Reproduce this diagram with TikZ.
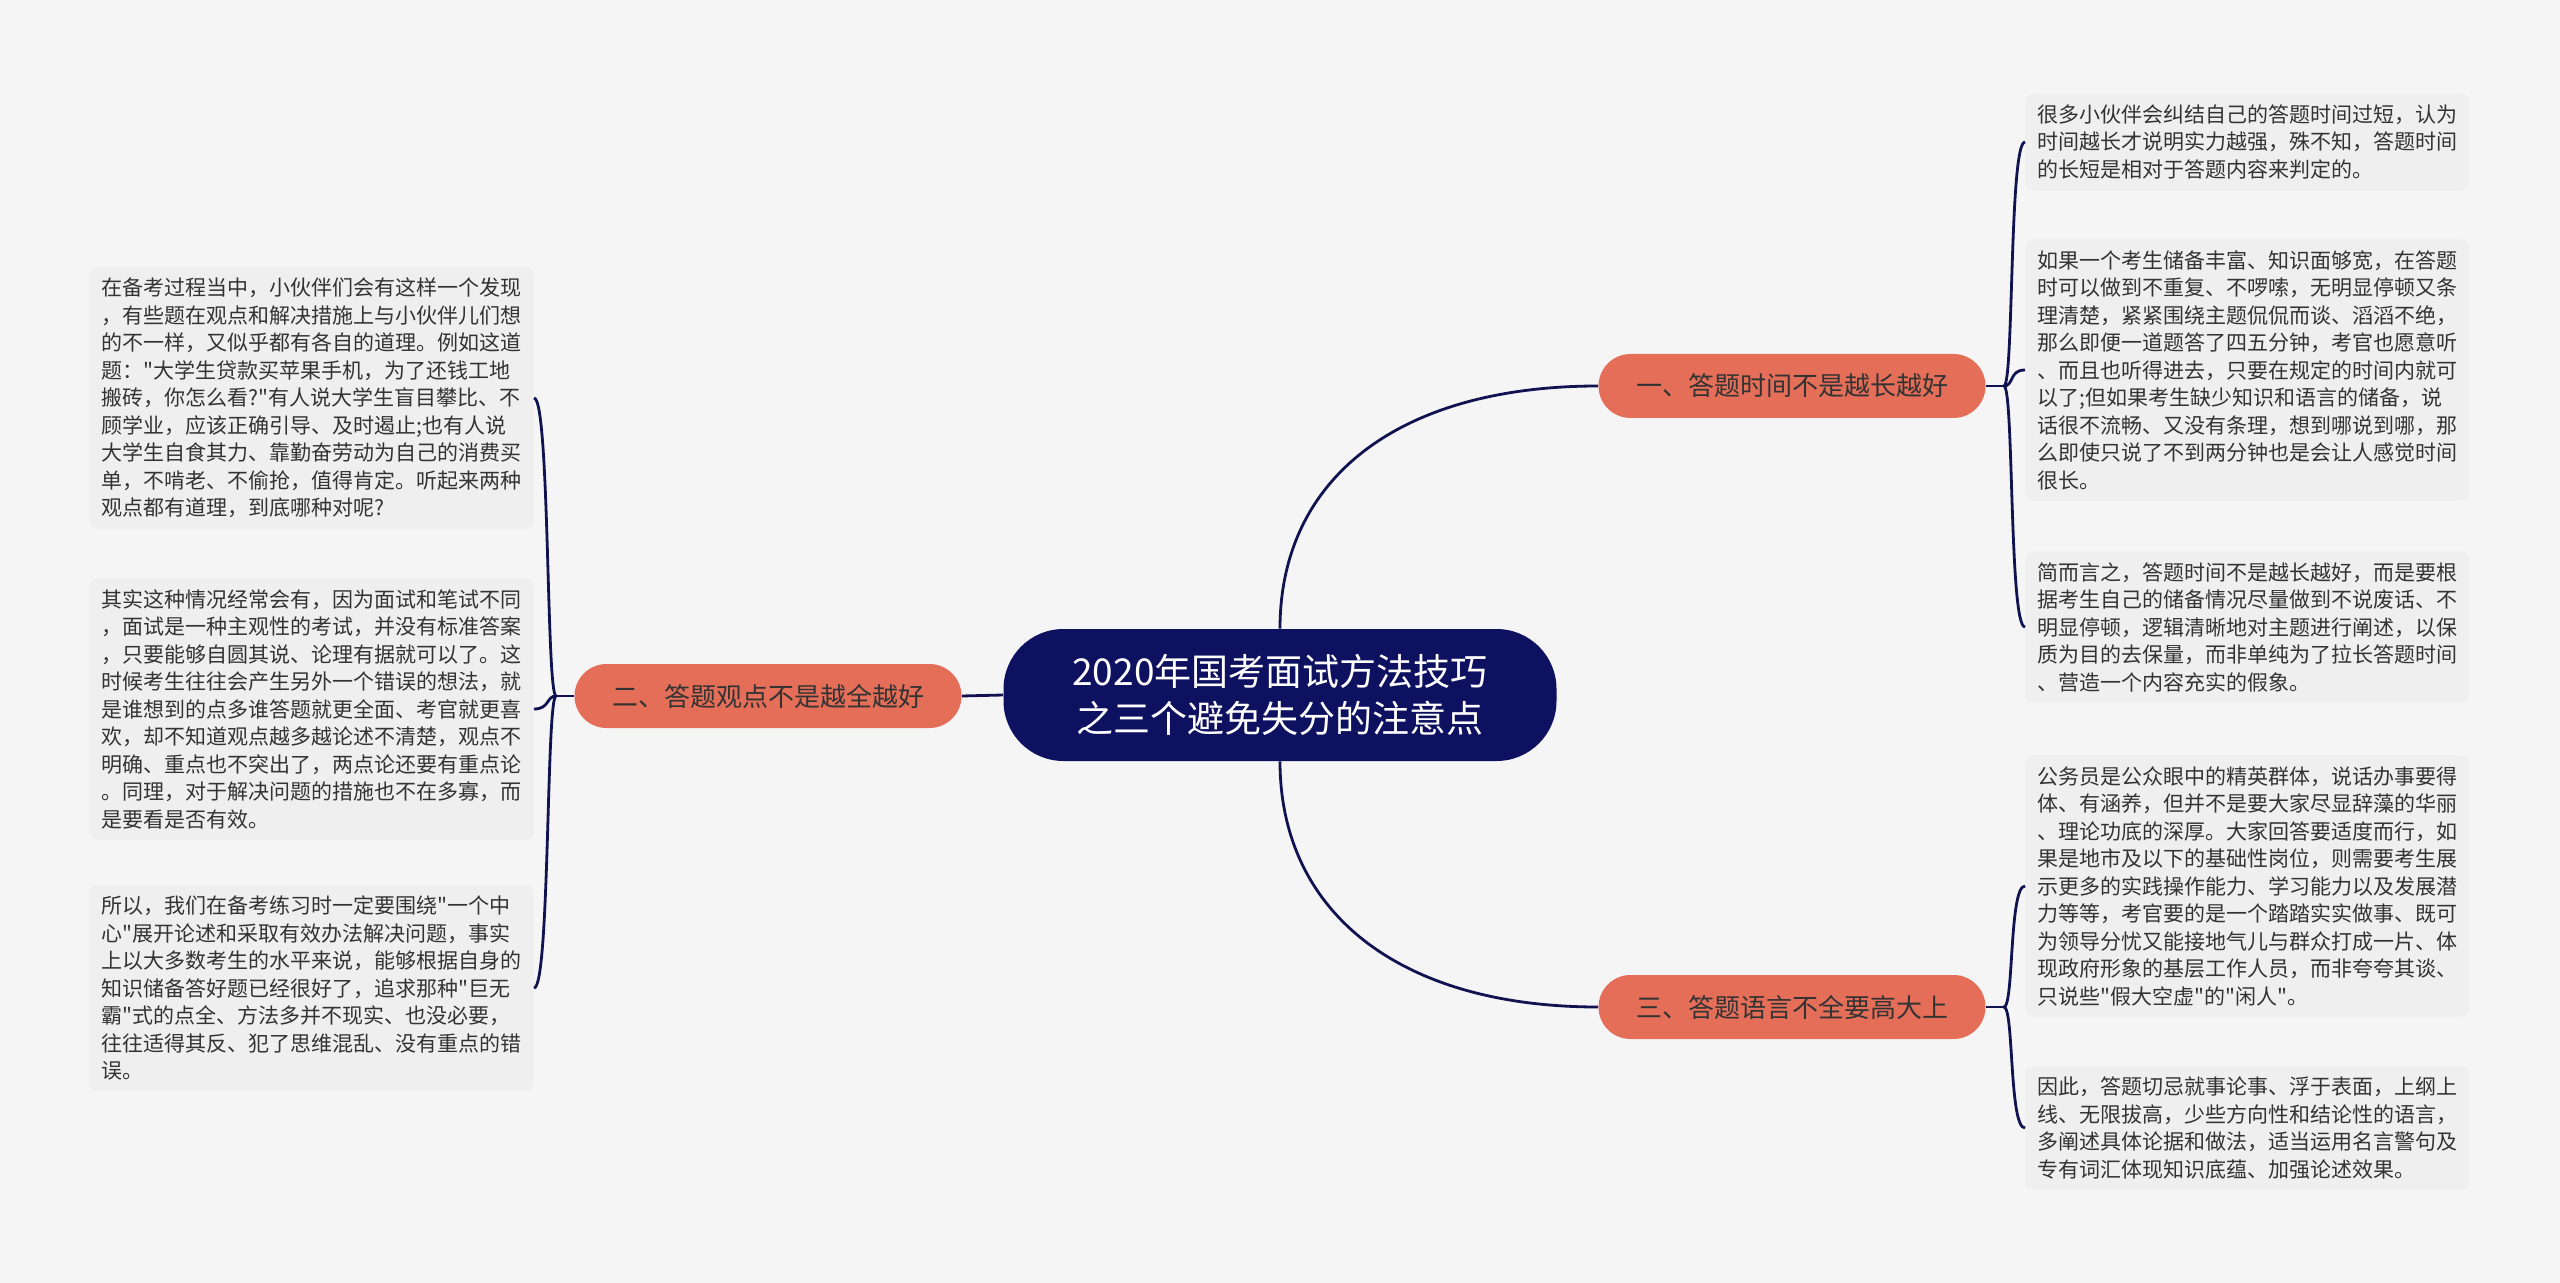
\documentclass[tikz,border=0pt]{standalone}
\usepackage{fontspec}
\setmainfont{Noto Sans CJK SC}[Ligatures=TeXOff]
\definecolor{bgcolor}{HTML}{F5F5F6}
\definecolor{leafcolor}{HTML}{EFEFF0}
\definecolor{branchcolor}{HTML}{E46E58}
\definecolor{titlecolor}{HTML}{0D1160}
\definecolor{linkcolor}{HTML}{101350}
\definecolor{textcolor}{HTML}{333333}
\begin{document}
\begin{tikzpicture}[x=0.5pt,y=-0.5pt,
    titlebox/.style={fill=titlecolor,text=white,rounded corners=30pt,minimum width=276.5pt,minimum height=66pt,align=center,font=\fontsize{18.5pt}{23.5pt}\selectfont},
    branchbox/.style={fill=branchcolor,text=textcolor,rounded corners=16pt,minimum width=193.5pt,minimum height=32pt,font=\fontsize{13pt}{16pt}\selectfont},
    leafbox/.style={fill=leafcolor,text=textcolor,rounded corners=4pt,text width=210pt,inner xsep=6pt,inner ysep=5.5pt,align=left,font=\fontsize{10.5pt}{13.75pt}\selectfont},
    link/.style={draw=linkcolor,line width=1.4pt}]
    \useasboundingbox (0,0) rectangle (2560,1283);
    \fill[bgcolor] (0,0) rectangle (2560,1283);
    % --- nodo centrale e rami ---
    \node[titlebox] (title) at (1280,695) {2020年国考面试方法技巧\\之三个避免失分的注意点};
    \node[branchbox] (b1) at (1792,386) {一、答题时间不是越长越好};
    \node[branchbox] (b2) at (768,696) {二、答题观点不是越全越好};
    \node[branchbox] (b3) at (1792,1007) {三、答题语言不全要高大上};
    % --- foglie a destra ---
    \node[leafbox,anchor=west] (r1) at (2025,142) {很多小伙伴会纠结自己的答题时间过短，认为\\时间越长才说明实力越强，殊不知，答题时间\\的长短是相对于答题内容来判定的。};
    \node[leafbox,anchor=west] (r2) at (2025,370) {如果一个考生储备丰富、知识面够宽，在答题\\时可以做到不重复、不啰嗦，无明显停顿又条\\理清楚，紧紧围绕主题侃侃而谈、滔滔不绝，\\那么即便一道题答了四五分钟，考官也愿意听\\、而且也听得进去，只要在规定的时间内就可\\以了;但如果考生缺少知识和语言的储备，说\\话很不流畅、又没有条理，想到哪说到哪，那\\么即使只说了不到两分钟也是会让人感觉时间\\很长。};
    \node[leafbox,anchor=west] (r3) at (2025,627) {简而言之，答题时间不是越长越好，而是要根\\据考生自己的储备情况尽量做到不说废话、不\\明显停顿，逻辑清晰地对主题进行阐述，以保\\质为目的去保量，而非单纯为了拉长答题时间\\、营造一个内容充实的假象。};
    \node[leafbox,anchor=west] (r4) at (2025,886) {公务员是公众眼中的精英群体，说话办事要得\\体、有涵养，但并不是要大家尽显辞藻的华丽\\、理论功底的深厚。大家回答要适度而行，如\\果是地市及以下的基础性岗位，则需要考生展\\示更多的实践操作能力、学习能力以及发展潜\\力等等，考官要的是一个踏踏实实做事、既可\\为领导分忧又能接地气儿与群众打成一片、体\\现政府形象的基层工作人员，而非夸夸其谈、\\只说些"假大空虚"的"闲人"。};
    \node[leafbox,anchor=west] (r5) at (2025,1128) {因此，答题切忌就事论事、浮于表面，上纲上\\线、无限拔高，少些方向性和结论性的语言，\\多阐述具体论据和做法，适当运用名言警句及\\专有词汇体现知识底蕴、加强论述效果。};
    % --- foglie a sinistra ---
    \node[leafbox,anchor=east] (l1) at (534,398) {在备考过程当中，小伙伴们会有这样一个发现\\，有些题在观点和解决措施上与小伙伴儿们想\\的不一样，又似乎都有各自的道理。例如这道\\题："大学生贷款买苹果手机，为了还钱工地\\搬砖，你怎么看?"有人说大学生盲目攀比、不\\顾学业，应该正确引导、及时遏止;也有人说\\大学生自食其力、靠勤奋劳动为自己的消费买\\单，不啃老、不偷抢，值得肯定。听起来两种\\观点都有道理，到底哪种对呢?};
    \node[leafbox,anchor=east] (l2) at (534,709) {其实这种情况经常会有，因为面试和笔试不同\\，面试是一种主观性的考试，并没有标准答案\\，只要能够自圆其说、论理有据就可以了。这\\时候考生往往会产生另外一个错误的想法，就\\是谁想到的点多谁答题就更全面、考官就更喜\\欢，却不知道观点越多越论述不清楚，观点不\\明确、重点也不突出了，两点论还要有重点论\\。同理，对于解决问题的措施也不在多寡，而\\是要看是否有效。};
    \node[leafbox,anchor=east] (l3) at (534,988) {所以，我们在备考练习时一定要围绕"一个中\\心"展开论述和采取有效办法解决问题，事实\\上以大多数考生的水平来说，能够根据自身的\\知识储备答好题已经很好了，追求那种"巨无\\霸"式的点全、方法多并不现实、也没必要，\\往往适得其反、犯了思维混乱、没有重点的错\\误。};
    % --- collegamenti ---
    \draw[link] (title.north) .. controls +(0,-150) and +(-200,0) .. (b1.west);
    \draw[link] (title.south) .. controls +(0,150) and +(-200,0) .. (b3.west);
    \draw[link] (title.west) -- (b2.east);
    \draw[link] (b1.east) -- ++(18,0) coordinate (j1);
    \draw[link] (b2.west) -- ++(-18,0) coordinate (j2);
    \draw[link] (b3.east) -- ++(18,0) coordinate (j3);
    \foreach \f in {r1,r2,r3}
        \draw[link] (j1) .. controls +(10,0) and +(-16,0) .. (\f.west);
    \foreach \f in {r4,r5}
        \draw[link] (j3) .. controls +(10,0) and +(-16,0) .. (\f.west);
    \foreach \f in {l1,l2,l3}
        \draw[link] (j2) .. controls +(-10,0) and +(16,0) .. (\f.east);
\end{tikzpicture}
\end{document}
